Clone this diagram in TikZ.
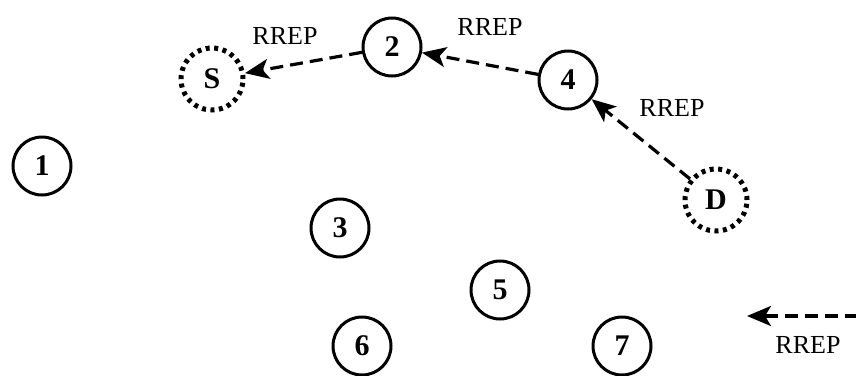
\documentclass[tikz,border=0pt]{standalone}
\usepackage{fontspec}
\setmainfont{Liberation Serif}
\usetikzlibrary{arrows.meta}
\begin{document}
\begin{tikzpicture}[x=1pt,y=-1pt,
  host/.style={circle,draw,line width=3pt,minimum size=58pt,inner sep=0pt,font=\fontsize{30}{30}\selectfont\bfseries},
  endpoint/.style={circle,draw,line width=5pt,dash pattern=on 4pt off 4.5pt,minimum size=62pt,inner sep=0pt,font=\fontsize{30}{30}\selectfont\bfseries},
  reply/.style={line width=3.2pt,dash pattern=on 13pt off 7pt,-{Stealth[length=24pt,width=20pt,inset=6pt]}},
  tag/.style={font=\fontsize{26}{26}\selectfont}]
\useasboundingbox (0,0) rectangle (856,375);
% mobile nodes
\node[endpoint] (S) at (212,79) {S};
\node[host] (n2) at (392,47) {2};
\node[host] (n4) at (568,80) {4};
\node[endpoint] (D) at (716,200) {D};
\node[host] (n1) at (42,166) {1};
\node[host] (n3) at (340,228) {3};
\node[host] (n5) at (500,290) {5};
\node[host] (n6) at (362,346) {6};
\node[host] (n7) at (622,346) {7};
% route reply path D -> 4 -> 2 -> S
\draw[reply] (D) -- (n4);
\draw[reply] (n4) -- (n2);
\draw[reply] (n2) -- (S);
\node[tag] (t1) at (285,36) {RREP};
\node[tag] (t2) at (490,27) {RREP};
\node[tag] (t3) at (672,108) {RREP};
% legend
\coordinate (la) at (858,316);
\coordinate (lb) at (747,316);
\draw[reply] (la) -- (lb);
\node[tag] (t4) at (808,345) {RREP};
\end{tikzpicture}
\end{document}
